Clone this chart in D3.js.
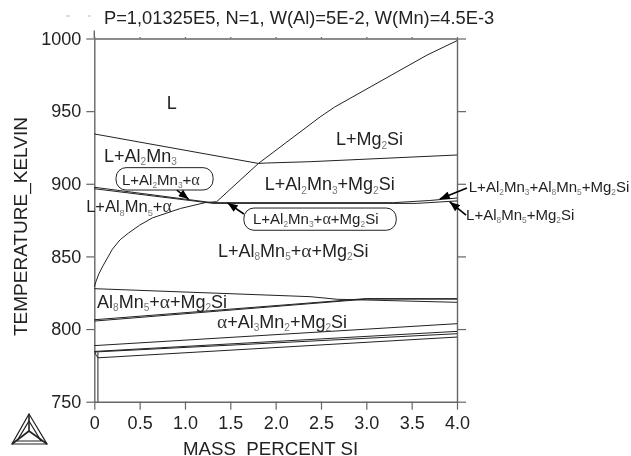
<!DOCTYPE html>
<html><head><meta charset="utf-8">
<script src="https://cdn.jsdelivr.net/npm/d3@7/dist/d3.min.js"></script>
<style>
html,body{margin:0;padding:0;background:#fff}
svg{display:block;filter:blur(0.3px)}
text{font-family:"Liberation Sans",Arial,sans-serif;fill:#222}
</style></head><body>
<svg id="chart" width="631" height="456"></svg>
<script>
// --- data: [mass percent Si, temperature K]
const xTicks = [0, 0.5, 1.0, 1.5, 2.0, 2.5, 3.0, 3.5, 4.0];
const xTickLabels = ["0", "0.5", "1.0", "1.5", "2.0", "2.5", "3.0", "3.5", "4.0"];
const yTicks = [750, 800, 850, 900, 950, 1000];

const mg2siLiquidus = [[0,829],[0.02,833],[0.05,838],[0.1,844],[0.2,855],[0.285,861.5],[0.375,866],[0.5,871.5],[0.64,876.5],[0.95,883],[1.22,887],[1.35,887.7],[1.81,914],[2.49,946],[2.65,952.8],[3.67,988.6],[4,998.5]];
const al2mn3Liquidus = [[0,934.3],[1.81,914],[1.9,914.3],[2.38,915.2],[4,919.8]];
const alphaUpperA = [[0,897.6],[1.3,887]];
const alphaUpperB = [[0,896.6],[1.3,886.6]];
const eutecticA = [[1.3,887],[3.3,887],[3.7,888.5],[4,890.2]];
const eutecticB = [[1.3,886.5],[3.55,886.5],[4,888.2]];
const solidusTop = [[0,827.8],[2.38,822.3],[2.68,820.5],[4,818.4]];
const solidusA = [[0,806.4],[3.0,821],[4,820.9]];
const solidusB = [[0,805.5],[3.0,820.6],[4,820.6]];
const lowA = [[0,788.6],[4,803.7]];
const lowB = [[0,784.6],[4,798.4]];
const lowC = [[0,784.2],[4,796.8]];
const lowD = [[0.04,780.2],[4,794.5]];
const lowTail = [[0.01,784],[0.02,782],[0.04,780.2]];
const verticalSolvus = [[0.04,784],[0.04,750]];
const curves = [mg2siLiquidus, al2mn3Liquidus, alphaUpperA, alphaUpperB, eutecticA, eutecticB, solidusTop, solidusA, solidusB, lowA, lowB, lowC, lowD, lowTail, verticalSolvus];

const phaseLabels = ["L","L+Al_2Mn_3","L+Mg_2Si","L+Al_2Mn_3+Mg_2Si","L+Al_8Mn_5+α+Mg_2Si","Al_8Mn_5+α+Mg_2Si","α+Al_3Mn_2+Mg_2Si"];
const phaseAnchors = [[0.8,951.5],[0.107,915.2],[2.665,926.7],[1.88,895.7],[1.364,849.8],[0.03,814.7],[1.353,800.8]];
const tightLabels = ["L+Al_8Mn_5+α"];
const tightAnchors = [[-0.09,880.4]];

const calloutLabels = ["L+Al_2Mn_3+α","L+Al_2Mn_3+α+Mg_2Si","L+Al_2Mn_3+Al_8Mn_5+Mg_2Si","L+Al_8Mn_5+Mg_2Si"];
const calloutAnchors = [[0.305,899.2],[1.75,872.3],[4.13,894.6],[4.10,875.1]];
const calloutBoxes = [[0.24,1.31,911.1,895.7],[1.65,3.33,883.3,868]];
const arrows = [[[0.91,895.7],[1.04,889.5]],[[1.65,879.2],[1.47,886.8]],[[4.11,897.1],[3.81,889.5]],[[4.10,878.5],[3.92,887.5]]];

const titleText = "P=1,01325E5, N=1, W(Al)=5E-2, W(Mn)=4.5E-3";
const xTitle = "MASS_PERCENT SI";
const yTitle = "TEMPERATURE_KELVIN";

// --- drawing
const svg = d3.select("#chart");
const x = d3.scaleLinear().domain([0,4]).range([94.3,457]);
const y = d3.scaleLinear().domain([750,1000]).range([401.7,38.5]);
const line = d3.line().x(d=>x(d[0])).y(d=>y(d[1]));
const axisColor = "#666", curveColor = "#222";

function styleAxis(g){
  g.select(".domain").attr("stroke",axisColor).attr("stroke-width",1.4);
  g.selectAll(".tick line").attr("stroke",axisColor).attr("stroke-width",1.2);
  g.selectAll(".tick text").attr("fill","#222").attr("font-size",18).attr("font-family",'"Liberation Sans",Arial,sans-serif');
}
svg.append("g").attr("transform",`translate(0,${y(750)})`)
  .call(d3.axisBottom(x).tickValues(xTicks).tickFormat((d,i)=>xTickLabels[i]).tickSize(8).tickSizeOuter(0).tickPadding(7))
  .call(styleAxis);
svg.append("g").attr("transform",`translate(0,${y(1000)})`)
  .call(d3.axisTop(x).tickValues(xTicks).tickFormat("").tickSize(1.5).tickSizeOuter(0)).call(styleAxis);
svg.append("g").attr("transform",`translate(${x(0)},0)`)
  .call(d3.axisLeft(y).tickValues(yTicks).tickFormat(d3.format("d")).tickSize(8).tickSizeOuter(0).tickPadding(5))
  .call(styleAxis);
svg.append("g").attr("transform",`translate(${x(4)},0)`)
  .call(d3.axisRight(y).tickValues(yTicks).tickFormat("").tickSize(9).tickSizeOuter(0)).call(styleAxis);
// left spine rises a little above the frame
svg.append("path").attr("d",line([[0,1000],[0,1005.5]])).attr("stroke",axisColor).attr("stroke-width",1.4);

// phase boundaries
svg.append("g").selectAll("path").data(curves).join("path")
  .attr("d",line).attr("fill","none").attr("stroke",curveColor).attr("stroke-width",1).attr("stroke-linejoin","round");

// rich labels with subscripts
function rich(sel,size){
  sel.each(function(s){
    const t = d3.select(this);
    let pending = 0;
    s.split(/(_\d|α)/).filter(p=>p).forEach(p=>{
      const span = t.append("tspan").attr("font-size",size);
      if(p[0]==="_"){
        span.text(p[1]).attr("font-size",size*0.56).attr("dy",size*0.2).style("fill","#777");
        pending = -size*0.2;
        return;
      }
      span.text(p).attr("dy",pending); pending = 0;
      if(p==="α") span.attr("font-family",'"Liberation Serif",serif').attr("font-size",size*1.08).style("fill","#333");
    });
  });
}
svg.append("g").selectAll("text").data(phaseLabels).join("text")
  .attr("x",(d,i)=>x(phaseAnchors[i][0])).attr("y",(d,i)=>y(phaseAnchors[i][1]))
  .call(rich,18);
svg.append("g").selectAll("text").data(tightLabels).join("text")
  .attr("x",(d,i)=>x(tightAnchors[i][0])).attr("y",(d,i)=>y(tightAnchors[i][1]))
  .call(rich,16.5);
svg.append("g").selectAll("rect").data(calloutBoxes).join("rect")
  .attr("x",d=>x(d[0])).attr("width",d=>x(d[1])-x(d[0]))
  .attr("y",d=>y(d[2])).attr("height",d=>y(d[3])-y(d[2]))
  .attr("rx",10).attr("ry",10).attr("fill","#fff").attr("stroke",curveColor).attr("stroke-width",1);
svg.append("g").selectAll("text").data(calloutLabels).join("text")
  .attr("x",(d,i)=>x(calloutAnchors[i][0])).attr("y",(d,i)=>y(calloutAnchors[i][1]))
  .call(rich,15);

// arrows
svg.append("defs").append("marker").attr("id","head").attr("markerUnits","userSpaceOnUse")
  .attr("viewBox","0 0 10 8").attr("refX",10).attr("refY",4).attr("markerWidth",11).attr("markerHeight",8).attr("orient","auto")
  .append("path").attr("d","M0,0L10,4L0,8Z").attr("fill","#000");
svg.append("g").selectAll("path").data(arrows).join("path")
  .attr("d",line).attr("stroke","#000").attr("stroke-width",1.6).attr("marker-end","url(#head)");

// titles
svg.append("text").attr("x",104).attr("y",24).attr("font-size",18.3).text(titleText);
svg.append("text").attr("x",183).attr("y",455).attr("font-size",18.7).text(xTitle);
svg.append("text").attr("transform","translate(27,336) rotate(-90)").attr("font-size",19).text(yTitle);

// Thermo-Calc style logo
const logoOuter = [[29,414],[47,444],[12,444]];
const logoInner = [[29,421],[41,441],[17,441]];
const logoSpokes = [[[29,414],[29,431]],[[29,431],[12,444]],[[29,431],[47,444]]];
const logo = svg.append("g").attr("fill","none").attr("stroke","#222").attr("stroke-width",1.2);
const plain = d3.line();
logo.append("path").attr("d",plain(logoOuter)+"Z");
logo.append("path").attr("d",plain(logoInner)+"Z");
logoSpokes.forEach(s=>logo.append("path").attr("d",plain(s)).attr("stroke-width",1.6));

// scanner specks above the axis
const specks = [[66,16,70,16],[88,16,91,16]];
svg.append("g").selectAll("line").data(specks).join("line")
  .attr("x1",d=>d[0]).attr("y1",d=>d[1]).attr("x2",d=>d[2]).attr("y2",d=>d[3]).attr("stroke","#bbb");
</script></body></html>
